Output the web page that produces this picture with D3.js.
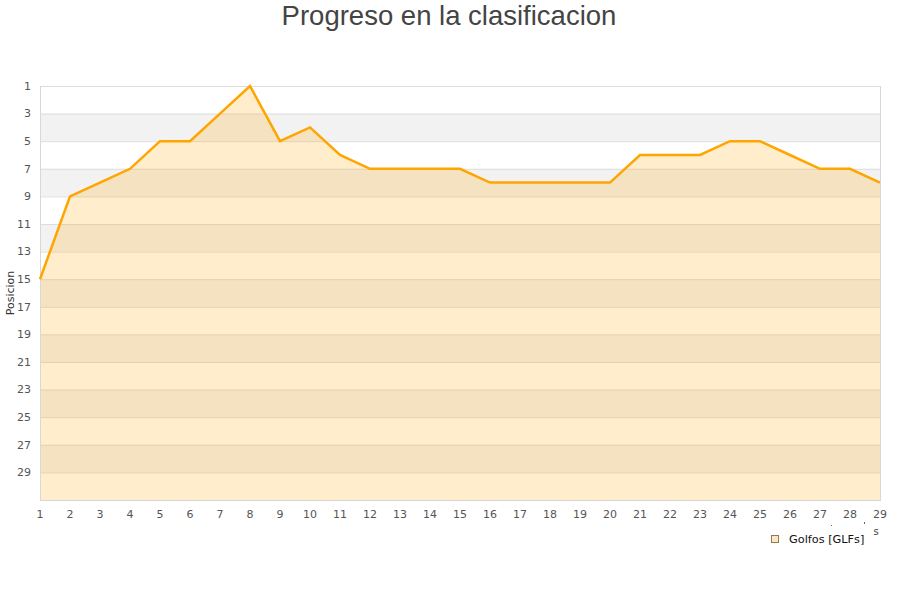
<!DOCTYPE html>
<html><head><meta charset="utf-8">
<script src="https://cdn.jsdelivr.net/npm/d3@7"></script>
<style>body{margin:0;background:#fff}svg{display:block}</style>
</head><body>
<script>
const title = "Progreso en la clasificacion";
const yTitle = "Posicion";
const seriesName = "Golfos [GLFs]";
const jornadas = [1,2,3,4,5,6,7,8,9,10,11,12,13,14,15,16,17,18,19,20,21,22,23,24,25,26,27,28,29];
const posiciones = [15,9,8,7,5,5,3,1,5,4,6,7,7,7,7,8,8,8,8,8,6,6,6,5,5,6,7,7,8];
const yTicks = [1,3,5,7,9,11,13,15,17,19,21,23,25,27,29];

const W = 900, H = 600;
const svg = d3.select("body").append("svg").attr("width", W).attr("height", H);
const x = d3.scaleLinear().domain([1, 29]).range([40, 880]);
const y = d3.scaleLinear().domain([1, 31]).range([86, 500]);

// bands
const bands = d3.range(1, 31, 2);
svg.append("g").selectAll("rect").data(bands).join("rect")
  .attr("x", x(1)).attr("width", x(29) - x(1))
  .attr("y", d => y(d)).attr("height", d => y(d + 2) - y(d))
  .attr("fill", (d, i) => i % 2 ? "#f2f2f2" : "#ffffff");

// grid lines
svg.append("g").selectAll("line").data(yTicks).join("line")
  .attr("x1", x(1)).attr("x2", x(29))
  .attr("y1", d => y(d) + 0.5).attr("y2", d => y(d) + 0.5)
  .attr("stroke", "#dddddd").attr("stroke-width", 1);

const data = jornadas.map((j, i) => ({j, p: posiciones[i]}));
svg.append("path").datum(data)
  .attr("d", d3.area().x(d => x(d.j)).y0(y(31)).y1(d => y(d.p)))
  .attr("fill", "rgba(255,165,0,0.2)");

// frame
svg.append("line").attr("x1", x(1) + 0.5).attr("x2", x(1) + 0.5).attr("y1", y(1)).attr("y2", y(31)).attr("stroke", "#d8d8d8");
svg.append("line").attr("x1", x(29) + 0.5).attr("x2", x(29) + 0.5).attr("y1", y(1)).attr("y2", y(31)).attr("stroke", "#d8d8d8");
svg.append("line").attr("x1", x(1)).attr("x2", x(29) + 1).attr("y1", y(31) + 0.5).attr("y2", y(31) + 0.5).attr("stroke", "#d8d8d8");

svg.append("path").datum(data)
  .attr("d", d3.line().x(d => x(d.j)).y(d => y(d.p)))
  .attr("fill", "none").attr("stroke", "#ffa500").attr("stroke-width", 2.5)
  .attr("stroke-linejoin", "miter");

// y axis labels
svg.append("g").selectAll("text").data(yTicks).join("text")
  .attr("x", 31).attr("y", d => y(d)).attr("dy", "0.35em")
  .attr("text-anchor", "end")
  .attr("font-family", "DejaVu Sans, sans-serif").attr("font-size", 11).attr("fill", "#555")
  .text(d => d);

// x axis labels
svg.append("g").selectAll("text").data(jornadas).join("text")
  .attr("x", d => x(d)).attr("y", 518)
  .attr("text-anchor", "middle")
  .attr("font-family", "DejaVu Sans, sans-serif").attr("font-size", 11).attr("fill", "#555")
  .text(d => d);

// title
svg.append("text").attr("x", 449).attr("y", 25).attr("text-anchor", "middle")
  .attr("font-family", "Liberation Sans, Arial, sans-serif").attr("font-size", 27.5).attr("fill", "#444")
  .text(title);

// y title
svg.append("text").attr("transform", "translate(14,293) rotate(-90)")
  .attr("text-anchor", "middle")
  .attr("font-family", "DejaVu Sans, sans-serif").attr("font-size", 11).attr("fill", "#333")
  .text(yTitle);

// stray x title fragment
svg.append("text").attr("x", 876).attr("y", 535).attr("text-anchor", "middle")
  .attr("font-family", "DejaVu Sans, sans-serif").attr("font-size", 10).attr("fill", "#444").text("s");
svg.append("rect").attr("x", 831).attr("y", 525).attr("width", 1).attr("height", 1).attr("fill", "#666");
svg.append("rect").attr("x", 864).attr("y", 522).attr("width", 1).attr("height", 2).attr("fill", "#666");

// legend
svg.append("rect").attr("x", 771.5).attr("y", 535.5).attr("width", 7).attr("height", 7)
  .attr("fill", "#fde6bf").attr("stroke", "#8a7a60").attr("stroke-width", 1);
svg.append("text").attr("x", 789).attr("y", 543)
  .attr("font-family", "DejaVu Sans, sans-serif").attr("font-size", 11.3).attr("fill", "#111")
  .text(seriesName);
</script>
</body></html>
